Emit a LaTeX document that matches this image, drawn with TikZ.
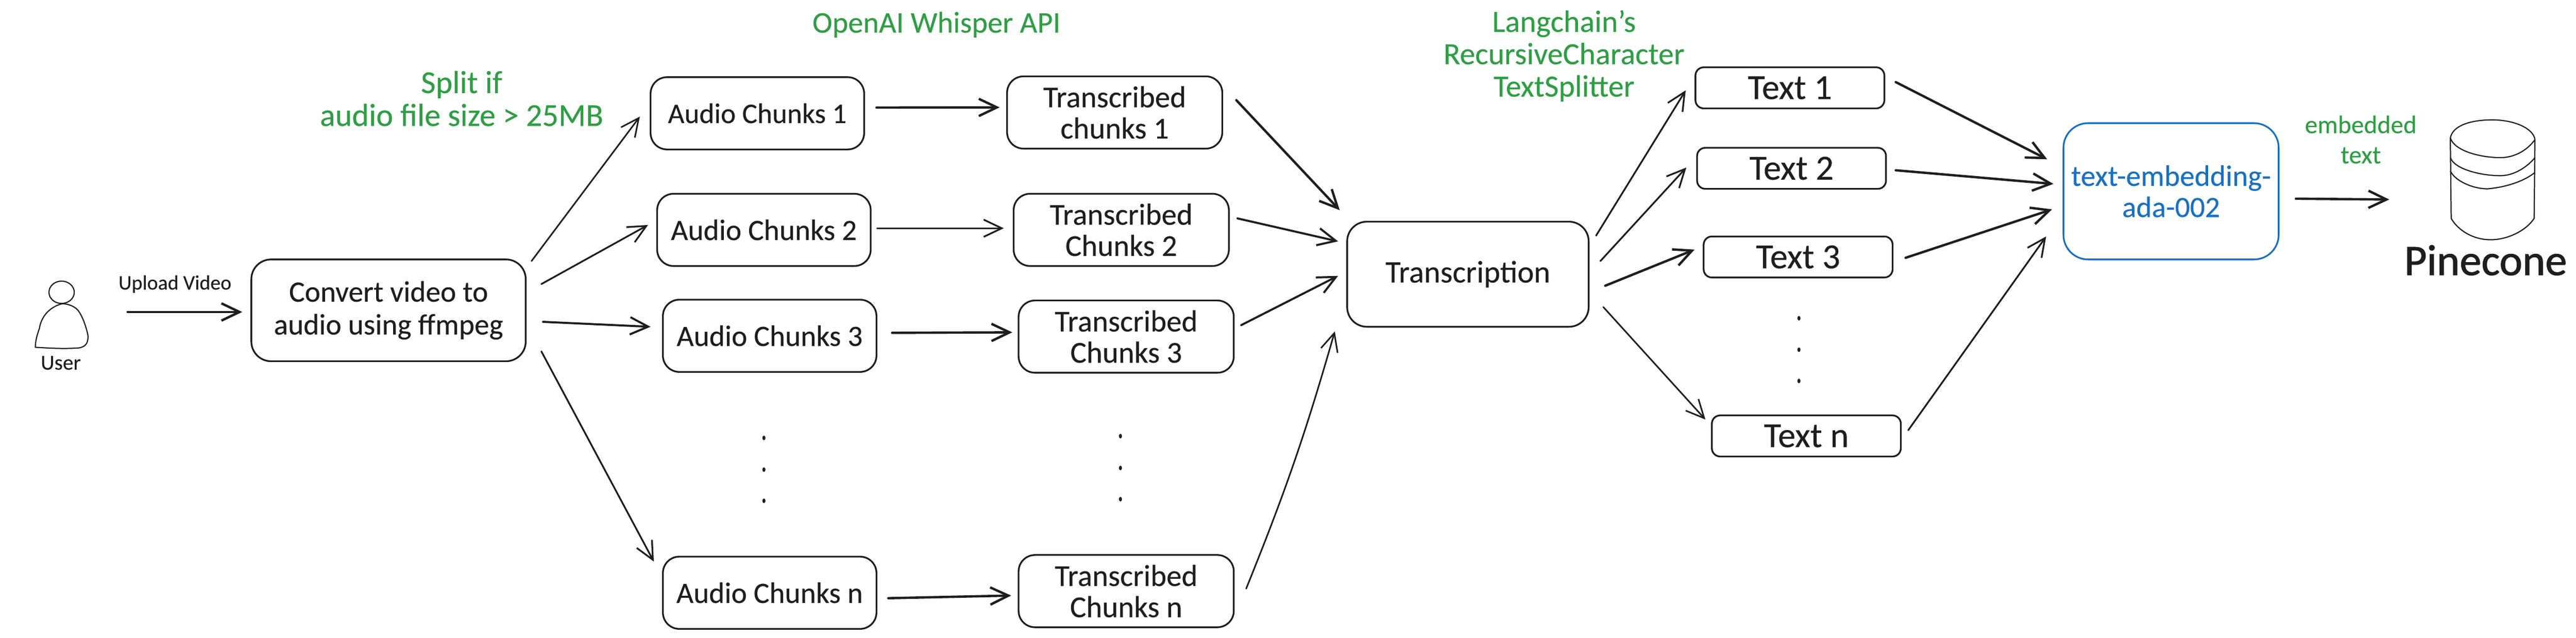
\documentclass[tikz,border=0pt]{standalone}
\usepackage{fontspec}
\setmainfont{Carlito}[FakeBold=0.25]
\usetikzlibrary{arrows.meta}
\definecolor{ink}{HTML}{1E1E1E}
\definecolor{exgreen}{HTML}{2F9E44}
\definecolor{exblue}{HTML}{1971C2}
\tikzset{
  every node/.style={text=ink,inner sep=0pt,align=center},
  box/.style={draw=ink,line width=1.05pt,rounded corners=10pt,font=\fontsize{18}{18.5}\selectfont},
  audiobox/.style={box,minimum width=130pt,minimum height=44pt},
  transbox/.style={box,minimum width=131pt,minimum height=44pt,font=\fontsize{18.5}{19}\selectfont},
  textbox/.style={box,minimum width=115pt,minimum height=25pt,rounded corners=5pt,font=\fontsize{21.5}{21}\selectfont},
  note/.style={text=exgreen,font=\fontsize{19.5}{20}\selectfont},
  arr/.style={draw=ink,line width=1.05pt,line cap=round,line join=round,-{Straight Barb[length=11pt,width=10.5pt]}},
  thinarr/.style={arr,line width=.95pt},
  thickarr/.style={arr,line width=1.45pt},
  iconline/.style={draw=ink,line width=.7pt,line join=round},
}
\begin{document}
\begin{tikzpicture}[x=1pt,y=-1pt]
\useasboundingbox (0,0) rectangle (1568,388.35);

% user icon
\draw[iconline] (37.5,178) ellipse (7.7 and 6.8);
\draw[iconline] (37.7,185) .. controls (30,187) and (25,193) .. (24,200) .. controls (22.5,204) and (21.5,208) .. (21.5,211.5)
  .. controls (30,212) and (38,212.5) .. (46,212) .. controls (52,212) and (54,209) .. (53.5,204) .. controls (52,197) and (49,190) .. (46.5,188) .. controls (44,186) and (41,185) .. (37.7,185) -- cycle;
\node[minimum width=32pt,minimum height=28pt] (user) at (37.5,198) {};
\node[font=\fontsize{13}{14}\selectfont] (userlabel) at (37,221) {User};
\node[font=\fontsize{12.5}{14}\selectfont] (uploadlabel) at (106.5,173) {Upload Video};

\node[box,rounded corners=12pt,minimum width=167pt,minimum height=62pt,font=\fontsize{18}{20}\selectfont] (conv) at (236.5,189) {Convert video to\\audio using ffmpeg};

\node[audiobox,font=\fontsize{17.3}{18.5}\selectfont] (a1) at (461,69) {Audio Chunks 1};
\node[audiobox] (a2) at (465,140) {Audio Chunks 2};
\node[audiobox] (a3) at (468.5,204.5) {Audio Chunks 3};
\node[audiobox] (an) at (468.5,361) {Audio Chunks n};

\node[transbox] (t1) at (678.5,68.5) {Transcribed\\chunks 1};
\node[transbox] (t2) at (682.5,140) {Transcribed\\Chunks 2};
\node[transbox] (t3) at (685.5,205) {Transcribed\\Chunks 3};
\node[transbox] (tn) at (685.5,360) {Transcribed\\Chunks n};

\node[box,rounded corners=12pt,minimum width=147pt,minimum height=64pt,font=\fontsize{19}{20}\selectfont] (trans) at (893.5,167) {Transcription};

\node[textbox] (x1) at (1089.5,53.5) {Text 1};
\node[textbox] (x2) at (1090.5,102.5) {Text 2};
\node[textbox] (x3) at (1094.5,156.5) {Text 3};
\node[textbox] (xn) at (1099.5,265.5) {Text n};

\node[draw=exblue,line width=1.05pt,rounded corners=15pt,minimum width=131pt,minimum height=83pt,text=exblue,font=\fontsize{18}{19}\selectfont] (emb) at (1321.5,116.5) {text-embedding-\\ada-002};

% Pinecone cylinder
\node[minimum width=52pt,minimum height=73pt] (db) at (1517,109.5) {};
\draw[iconline] (1491.5,84) .. controls (1493,76) and (1505,73) .. (1517,73) .. controls (1530,73) and (1542,78) .. (1543,85)
  -- (1542.5,133) .. controls (1538,140) and (1527,146) .. (1516,146) .. controls (1505,146) and (1496,140) .. (1492,133) -- cycle;
\draw[iconline] (1491.5,84) .. controls (1494,92) and (1510,96) .. (1522,96) .. controls (1530,96) and (1538,92) .. (1543,85);
\draw[iconline] (1491.5,96) .. controls (1494,103) and (1510,107) .. (1522,107) .. controls (1530,107) and (1538,102) .. (1543,96);
\draw[iconline] (1491.5,104) .. controls (1494,110) and (1505,115) .. (1514,115) .. controls (1526,114) and (1537,110) .. (1543,105);
\node[font=\fontsize{26.5}{30}\selectfont\addfontfeature{FakeBold=1.2}] (dblabel) at (1513,158.5) {Pinecone};

% notes
\node[note] (n1) at (281,60) {Split if\\audio file size > 25MB};
\node[note,font=\fontsize{18.3}{19}\selectfont] (n2) at (570,15) {OpenAI Whisper API};
\node[note,font=\fontsize{18.8}{19.7}\selectfont] (n3) at (952,34) {Langchain's\\RecursiveCharacter\\TextSplitter};
\node[note,font=\fontsize{15.5}{18.4}\selectfont] (n4) at (1437,85) {embedded\\text};

% dots
\foreach \xx/\yy in {465/266.7,465/286,465/305,682/265.6,682/285,682/304,1095/193.8,1095/213,1095/232}
  \fill[ink] (\xx,\yy) ellipse (.95 and 1.4);

% connectors
\draw[thickarr] ([shift={(24,-8)}]user.east) -- ([shift={(-5,1)}]conv.west);
\draw[thinarr] ([shift={(3,-30)}]conv.east) -- ([shift={(-6,2)}]a1.west);
\draw[arr] ([shift={(9,-16)}]conv.east) -- ([shift={(-5,-3)}]a2.west);
\draw[arr,line width=1.25pt] ([shift={(10,7)}]conv.east) -- ([shift={(-7,-5.5)}]a3.west);
\draw[arr] ([shift={(9,25)}]conv.east) -- ([shift={(-5,-19)}]an.west);

\draw[thickarr] ([shift={(7,-3.5)}]a1.east) -- ([shift={(-4,-3.1)}]t1.west);
\draw[arr] ([shift={(3.4,-1)}]a2.east) -- ([shift={(-5.5,-1)}]t2.west);
\draw[thickarr] ([shift={(9,-1.8)}]a3.east) -- ([shift={(-3.3,-2.6)}]t3.west);
\draw[thickarr] ([shift={(6.7,3.3)}]an.east) -- ([shift={(-4,2.7)}]tn.west);

\draw[thickarr] ([shift={(8,-7.5)}]t1.east) -- ([shift={(-4,-39)}]trans.west);
\draw[arr,line width=1.25pt] ([shift={(4.7,-7)}]t2.east) -- ([shift={(-5,-20)}]trans.west);
\draw[arr,line width=1.25pt] ([shift={(4,-7)}]t3.east) -- ([shift={(-5,1)}]trans.west);
\draw[thinarr] ([shift={(7,-1.5)}]tn.east) to[bend right=3] ([shift={(-7,34.8)}]trans.west);

\draw[arr] ([shift={(4,-23.5)}]trans.east) -- ([shift={(-5.4,1.5)}]x1.west);
\draw[arr] ([shift={(6.6,-8)}]trans.east) -- ([shift={(-6,-.5)}]x2.west);
\draw[thickarr] ([shift={(9.6,7)}]trans.east) -- ([shift={(-5,-4.5)}]x3.west);
\draw[thinarr] ([shift={(8.4,20)}]trans.east) -- ([shift={(-3.4,-10)}]xn.west);

\draw[thickarr] ([shift={(6.4,-3.5)}]x1.east) -- ([shift={(-9.4,-19.5)}]emb.west);
\draw[thickarr] ([shift={(5.4,1.2)}]x2.east) -- ([shift={(-5.6,-4.5)}]emb.west);
\draw[thickarr] ([shift={(7.4,.5)}]x3.east) -- ([shift={(-6.4,11)}]emb.west);
\draw[arr] ([shift={(4,-3.5)}]xn.east) -- ([shift={(-10,27.5)}]emb.west);

\draw[thickarr] ([shift={(10,4.5)}]emb.east) -- ([shift={(-36.5,12)}]db.west);
\end{tikzpicture}
\end{document}
